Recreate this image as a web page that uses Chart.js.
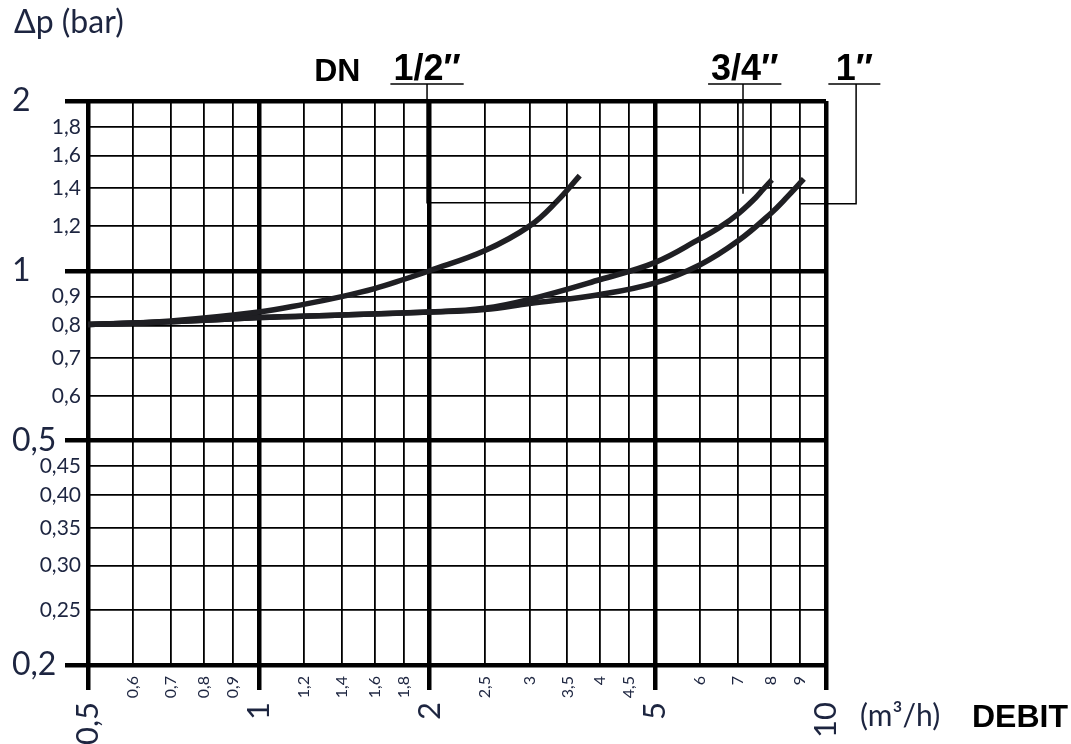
<!DOCTYPE html>
<html>
<head>
<meta charset="utf-8">
<script src="https://cdn.jsdelivr.net/npm/chart.js@4.4.1/dist/chart.umd.min.js"></script>
<style>
  html, body { margin: 0; padding: 0; background: #fff; }
  #wrap { width: 1071px; height: 744px; }
</style>
</head>
<body>
<div id="wrap"><canvas id="chart" width="1071" height="744"></canvas></div>
<script>
// axis ticks (flow in m3/h, pressure drop in bar)
const flowTicks = [0.5, 0.6, 0.7, 0.8, 0.9, 1, 1.2, 1.4, 1.6, 1.8, 2, 2.5, 3, 3.5, 4, 4.5, 5, 6, 7, 8, 9, 10];
const flowLabels = ['0,5', '0,6', '0,7', '0,8', '0,9', '1', '1,2', '1,4', '1,6', '1,8', '2', '2,5', '3', '3,5', '4', '4,5', '5', '6', '7', '8', '9', '10'];
const flowMajor = [0.5, 1, 2, 5, 10];

const dpTicks = [0.2, 0.25, 0.3, 0.35, 0.4, 0.45, 0.5, 0.6, 0.7, 0.8, 0.9, 1, 1.2, 1.4, 1.6, 1.8, 2];
const dpLabels = ['0,2', '0,25', '0,30', '0,35', '0,40', '0,45', '0,5', '0,6', '0,7', '0,8', '0,9', '1', '1,2', '1,4', '1,6', '1,8', '2'];
const dpMajor = [0.2, 0.5, 1, 2];

// curves per DN size
const sizes = ['1/2″', '3/4″', '1″'];

const flowHalf = [0.5, 0.7, 1, 1.2, 1.4, 1.6, 1.8, 2, 2.5, 3, 3.36, 3.68];
const dpHalf = [0.803, 0.815, 0.845, 0.872, 0.9, 0.93, 0.965, 1.0, 1.085, 1.2, 1.33, 1.475];

const flowThreeQuarter = [0.5, 0.7, 1, 1.4, 2, 2.5, 3, 4, 5, 6, 6.5, 7, 7.5, 7.75, 8.03];
const dpThreeQuarter = [0.803, 0.812, 0.826, 0.835, 0.845, 0.858, 0.89, 0.965, 1.035, 1.14, 1.195, 1.262, 1.345, 1.395, 1.45];

const flowOne = [0.5, 0.7, 1, 1.4, 2, 2.5, 3, 4, 5, 6, 7, 8, 8.56, 9.14];
const dpOne = [0.803, 0.812, 0.826, 0.835, 0.845, 0.854, 0.875, 0.908, 0.952, 1.025, 1.13, 1.265, 1.355, 1.455];

// DN labels: label centre (flow), leader drop (dp) and leader end (flow)
const sizeLabelFlow = [1.98, 7.19, 11.22];
const leaderFlow = [1.98, 7.14, 11.3];
const leaderDp = [1.32, 1.37, 1.315];
const leaderEndFlow = [3.33, 7.14, 9.0];

const textColor = '#1d2540';
const lineColor = '#1f1f23';
const labelFont = 'Lato, "Open Sans", sans-serif';

function toPoints(xs, ys) {
  return xs.map((x, i) => ({ x: x, y: ys[i] }));
}

function isMajor(list, value) {
  return list.indexOf(value) !== -1;
}

function setTicks(values) {
  return scale => {
    scale.ticks = values.map(v => ({ value: v }));
  };
}

function gridWidth(list) {
  return ctx => (ctx.tick && isMajor(list, ctx.tick.value)) ? 4.5 : 1.8;
}

function noPadding(scale) {
  scale.paddingLeft = 0;
  scale.paddingRight = 0;
  scale.paddingTop = 0;
  scale.paddingBottom = 0;
}

const curveStyle = {
  borderColor: lineColor,
  borderWidth: 5.5,
  pointRadius: 0,
  showLine: true,
  fill: false,
  tension: 0.4,
  borderCapStyle: 'butt'
};

const captions = {
  id: 'captions',
  afterDraw(chart) {
    const { ctx, chartArea } = chart;
    const x = chart.scales.x;
    const y = chart.scales.y;
    ctx.save();

    ctx.fillStyle = textColor;
    ctx.textBaseline = 'alphabetic';
    ctx.textAlign = 'left';
    ctx.font = '32px ' + labelFont;
    ctx.fillText('Δp (bar)', 14, 33);
    ctx.font = '30px ' + labelFont;
    ctx.fillText('(m³/h)', 860, 726);

    ctx.fillStyle = '#000';
    ctx.font = 'bold 32px "Liberation Sans", Arial, sans-serif';
    ctx.fillText('DEBIT', 972, 727);

    // DN size labels with leaders
    const baseY = chartArea.top - 21;
    const lineY = chartArea.top - 17;
    ctx.strokeStyle = '#000';
    ctx.lineWidth = 1.5;
    sizes.forEach((label, i) => {
      const cx = x.getPixelForValue(sizeLabelFlow[i]);
      ctx.font = 'bold 36px "Liberation Sans Narrow", "Liberation Sans", Arial, sans-serif';
      ctx.textAlign = 'center';
      ctx.fillStyle = '#000';
      ctx.fillText(label, cx, baseY);
      const w = Math.max(ctx.measureText(label).width + 6, 52);
      ctx.beginPath();
      ctx.moveTo(cx - w / 2, lineY);
      ctx.lineTo(cx + w / 2, lineY);
      ctx.stroke();

      const lx = x.getPixelForValue(leaderFlow[i]);
      const ly = y.getPixelForValue(leaderDp[i]);
      ctx.beginPath();
      ctx.moveTo(lx, lineY);
      ctx.lineTo(lx, ly);
      ctx.lineTo(x.getPixelForValue(leaderEndFlow[i]), ly);
      ctx.stroke();

      if (i === 0) {
        ctx.font = 'bold 32px "Liberation Sans", Arial, sans-serif';
        ctx.textAlign = 'right';
        ctx.fillText('DN', cx - w / 2 - 30, baseY + 1);
      }
    });
    ctx.restore();
  }
};

new Chart(document.getElementById('chart'), {
  type: 'scatter',
  data: {
    datasets: [
      Object.assign({ label: sizes[0], data: toPoints(flowHalf, dpHalf) }, curveStyle),
      Object.assign({ label: sizes[1], data: toPoints(flowThreeQuarter, dpThreeQuarter) }, curveStyle),
      Object.assign({ label: sizes[2], data: toPoints(flowOne, dpOne) }, curveStyle)
    ]
  },
  options: {
    responsive: false,
    animation: false,
    devicePixelRatio: 1,
    layout: { padding: { left: 12, right: 245, top: 101, bottom: 0 } },
    plugins: { legend: { display: false }, tooltip: { enabled: false } },
    scales: {
      x: {
        type: 'logarithmic',
        position: 'bottom',
        min: 0.5,
        max: 10,
        afterBuildTicks: setTicks(flowTicks),
        afterFit: scale => { noPadding(scale); scale.height = 35; },
        border: { display: false },
        grid: {
          color: '#000',
          lineWidth: gridWidth(flowMajor),
          tickWidth: gridWidth(flowMajor),
          tickColor: ctx => (ctx.tick && isMajor(flowMajor, ctx.tick.value)) ? '#000' : 'rgba(0,0,0,0)',
          tickLength: 25
        },
        ticks: {
          autoSkip: false,
          minRotation: 90,
          maxRotation: 90,
          padding: -14,
          color: textColor,
          font: { family: labelFont, size: 16 },
          callback: v => isMajor(flowMajor, v) ? '' : flowLabels[flowTicks.indexOf(v)]
        }
      },
      xMajor: {
        type: 'logarithmic',
        position: 'bottom',
        min: 0.5,
        max: 10,
        afterBuildTicks: setTicks(flowMajor),
        afterFit: scale => { noPadding(scale); scale.height = 44; },
        border: { display: false },
        grid: { display: false, drawTicks: false },
        ticks: {
          autoSkip: false,
          minRotation: 90,
          maxRotation: 90,
          padding: 2,
          color: textColor,
          font: { family: labelFont, size: 31 },
          callback: v => flowLabels[flowTicks.indexOf(v)]
        }
      },
      y: {
        type: 'logarithmic',
        position: 'left',
        weight: 0,
        min: 0.2,
        max: 2,
        afterBuildTicks: setTicks(dpTicks),
        afterFit: scale => { noPadding(scale); scale.width = 76; },
        border: { display: false },
        grid: {
          color: '#000',
          lineWidth: gridWidth(dpMajor),
          tickWidth: gridWidth(dpMajor),
          tickColor: ctx => (ctx.tick && isMajor(dpMajor, ctx.tick.value)) ? '#000' : 'rgba(0,0,0,0)',
          tickLength: 23
        },
        ticks: {
          autoSkip: false,
          padding: -16,
          color: textColor,
          font: { family: labelFont, size: 21 },
          callback: v => isMajor(dpMajor, v) ? '' : dpLabels[dpTicks.indexOf(v)]
        }
      },
      yMajor: {
        type: 'logarithmic',
        position: 'left',
        weight: 1,
        min: 0.2,
        max: 2,
        afterBuildTicks: setTicks(dpMajor),
        afterFit: scale => { noPadding(scale); scale.width = 0; },
        border: { display: false },
        grid: { display: false, drawTicks: false },
        ticks: {
          autoSkip: false,
          mirror: true,
          padding: 0,
          color: textColor,
          font: { family: labelFont, size: 32 },
          callback: v => dpLabels[dpTicks.indexOf(v)]
        }
      }
    }
  },
  plugins: [captions]
});
</script>
</body>
</html>
